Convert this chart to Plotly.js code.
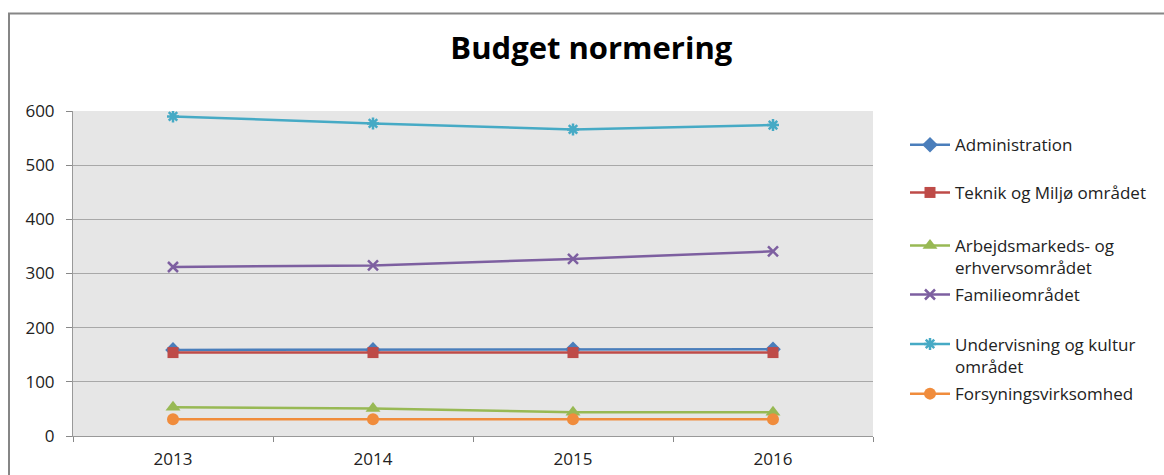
<!DOCTYPE html>
<html><head><meta charset="utf-8">
<script src="https://cdn.plot.ly/plotly-3.0.1.min.js"></script>
<style>html,body{margin:0;padding:0;background:#fff}#chart{width:1164px;height:475px}</style>
</head><body><div id="chart"></div>
<script>
const years = ["2013", "2014", "2015", "2016"];
const seriesNames = ["Administration", "Teknik og Miljø området", "Arbejdsmarkeds- og<br>erhvervsområdet", "Familieområdet", "Undervisning og kultur<br>området", "Forsyningsvirksomhed"];
const administration = [159, 159, 160, 160];
const teknik = [154, 154, 154, 154];
const arbejdsmarked = [53, 51, 44, 44];
const familie = [312, 315, 327, 341];
const undervisning = [590, 577, 566, 574];
const forsyning = [31, 31, 31, 31];
const yTicks = [0, 100, 200, 300, 400, 500, 600];

const colors = ["#4A7EBB", "#BE4B48", "#98B954", "#7D5FA0", "#46AAC5", "#F08C3C"];
const symbols = ["diamond", "square", "triangle-up", "x-thin-open", "asterisk-open", "circle"];
const sizes = [12, 11, 13, 10, 10, 12];
const values = [administration, teknik, arbejdsmarked, familie, undervisning, forsyning];
// legend entry vertical centres (paper coords)
const legendY = [0.895, 0.748, 0.551, 0.434, 0.248, 0.129];

const traces = values.map((v, i) => ({
  type: "scatter", mode: "lines+markers", x: years, y: v, name: seriesNames[i],
  legend: i === 0 ? "legend" : "legend" + (i + 1),
  line: {color: colors[i], width: 2.5},
  marker: {symbol: symbols[i], color: colors[i], size: sizes[i],
           line: {color: colors[i], width: (i === 3 || i === 4) ? 2.5 : 0}}
}));

const layout = {
  width: 1164, height: 475,
  margin: {l: 73, r: 291, t: 111, b: 39},
  paper_bgcolor: "#ffffff", plot_bgcolor: "#E6E6E6",
  font: {family: "'Open Sans', sans-serif", color: "#222", size: 17},
  title: {text: "<b>Budget normering</b>", font: {size: 31, color: "#000", family: "'Open Sans', sans-serif"},
          x: 0.508, xanchor: "center", y: 0.899, yanchor: "middle", xref: "container", yref: "container"},
  showlegend: true,
  xaxis: {type: "category", tickson: "boundaries", ticks: "outside", ticklen: 5, tickcolor: "#888",
          showline: true, linecolor: "#999", linewidth: 1, showgrid: false, range: [-0.5, 3.5],
          ticklabelstandoff: 8, tickfont: {size: 17, color: "#222"}},
  yaxis: {range: [0, 600], tickvals: yTicks, ticks: "outside", ticklen: 6, tickcolor: "#888",
          showline: true, linecolor: "#999", linewidth: 1, showgrid: true, gridcolor: "#A8A8A8", gridwidth: 1,
          zeroline: false, ticklabelstandoff: 8, tickfont: {size: 17, color: "#222"}},
  shapes: [{type: "rect", xref: "paper", yref: "paper", x0: -0.08, x1: 1.5, y0: -0.5, y1: 1.3,
            line: {color: "#868686", width: 2}, fillcolor: "rgba(0,0,0,0)", layer: "below"}]
};
legendY.forEach((y, i) => {
  const key = i === 0 ? "legend" : "legend" + (i + 1);
  layout[key] = {x: 1.04, y: y, xanchor: "left", yanchor: "middle", valign: "top",
                 font: {size: 17, color: "#222"}, itemwidth: 40, bgcolor: "rgba(0,0,0,0)"};
});
Plotly.newPlot("chart", traces, layout, {displayModeBar: false, staticPlot: true});
</script></body></html>
